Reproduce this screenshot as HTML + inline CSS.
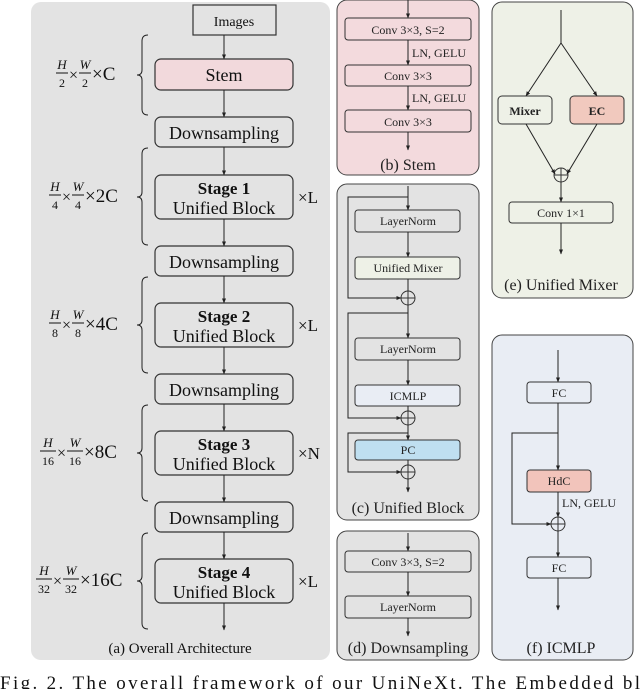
<!DOCTYPE html>
<html><head><meta charset="utf-8"><style>
html,body{margin:0;padding:0;background:#fff;}
svg{display:block;font-family:"Liberation Serif",serif;}
</style></head><body>
<svg width="640" height="689" viewBox="0 0 640 689" xmlns="http://www.w3.org/2000/svg">
<defs>
<marker id="a" viewBox="0 0 10 10" refX="9" refY="5" markerWidth="5" markerHeight="5" orient="auto"><path d="M0,1 L10,5 L0,9 z" fill="#222"/></marker>
</defs>
<g stroke="#333" stroke-width="1">
<rect x="31" y="2" width="299" height="658" rx="10" fill="#e3e3e3" stroke="none"/>
<rect x="337" y="0" width="142" height="175" rx="10" fill="#f3dadd" stroke="#444"/>
<rect x="337" y="184" width="142" height="336" rx="10" fill="#e3e3e3" stroke="#444"/>
<rect x="337" y="531" width="142" height="129" rx="10" fill="#e3e3e3" stroke="#444"/>
<rect x="492" y="2" width="141" height="296" rx="10" fill="#eef1e7" stroke="#444"/>
<rect x="492" y="335" width="141" height="325" rx="10" fill="#e9edf4" stroke="#444"/>
</g>
<g stroke="#333" stroke-width="1.2" fill="none">
<rect x="193" y="5" width="83" height="30" fill="#e3e3e3"/>
<rect x="155" y="59" width="138" height="31" rx="6" fill="#f2d9dc"/>
<rect x="155" y="117" width="138" height="30" rx="6" fill="#e3e3e3"/>
<rect x="155" y="175" width="138" height="44" rx="6" fill="#e3e3e3"/>
<rect x="155" y="246" width="138" height="30" rx="6" fill="#e3e3e3"/>
<rect x="155" y="303" width="138" height="44" rx="6" fill="#e3e3e3"/>
<rect x="155" y="374" width="138" height="30" rx="6" fill="#e3e3e3"/>
<rect x="155" y="431" width="138" height="44" rx="6" fill="#e3e3e3"/>
<rect x="155" y="502" width="138" height="30" rx="6" fill="#e3e3e3"/>
<rect x="155" y="559" width="138" height="44" rx="6" fill="#e3e3e3"/>
</g>
<g stroke="#222" stroke-width="1" marker-end="url(#a)">
<line x1="224" y1="35" x2="224" y2="59"/>
<line x1="224" y1="90" x2="224" y2="117"/>
<line x1="224" y1="147" x2="224" y2="175"/>
<line x1="224" y1="219" x2="224" y2="246"/>
<line x1="224" y1="276" x2="224" y2="303"/>
<line x1="224" y1="347" x2="224" y2="374"/>
<line x1="224" y1="404" x2="224" y2="431"/>
<line x1="224" y1="475" x2="224" y2="502"/>
<line x1="224" y1="532" x2="224" y2="559"/>
<line x1="224" y1="603" x2="224" y2="630"/>
</g>
<g stroke="#222" stroke-width="1" fill="none">
<path d="M148,35 Q142,35 142,41 L142,70 Q142,75 137,75 Q142,75 142,80 L142,109 Q142,115 148,115"/>
<path d="M148,148 Q142,148 142,154 L142,192 Q142,197 137,197 Q142,197 142,202 L142,239 Q142,245 148,245"/>
<path d="M148,277 Q142,277 142,283 L142,320 Q142,325 137,325 Q142,325 142,330 L142,367 Q142,373 148,373"/>
<path d="M148,405 Q142,405 142,411 L142,448 Q142,453 137,453 Q142,453 142,458 L142,495 Q142,501 148,501"/>
<path d="M148,533 Q142,533 142,539 L142,576 Q142,581 137,581 Q142,581 142,586 L142,623 Q142,629 148,629"/>
</g>
<g fill="#111" text-anchor="middle">
<text x="234" y="26" font-size="14">Images</text>
<text x="224" y="81" font-size="18">Stem</text>
<text x="224" y="139" font-size="18">Downsampling</text>
<text x="224" y="194" font-size="17" font-weight="bold">Stage 1</text>
<text x="224" y="214" font-size="18">Unified Block</text>
<text x="224" y="268" font-size="18">Downsampling</text>
<text x="224" y="322" font-size="17" font-weight="bold">Stage 2</text>
<text x="224" y="342" font-size="18">Unified Block</text>
<text x="224" y="396" font-size="18">Downsampling</text>
<text x="224" y="450" font-size="17" font-weight="bold">Stage 3</text>
<text x="224" y="470" font-size="18">Unified Block</text>
<text x="224" y="524" font-size="18">Downsampling</text>
<text x="224" y="578" font-size="17" font-weight="bold">Stage 4</text>
<text x="224" y="598" font-size="18">Unified Block</text>
<text x="180" y="653" font-size="15">(a) Overall Architecture</text>
</g>
<g fill="#111" font-size="17">
<text x="298" y="203">×L</text>
<text x="298" y="331">×L</text>
<text x="298" y="459">×N</text>
<text x="298" y="587">×L</text>
</g>
<g fill="#111" font-size="19" stroke-width="1">
<g transform="translate(56,75)">
<text x="6" y="-6" font-size="13" font-style="italic" text-anchor="middle">H</text><line x1="0" y1="-2" x2="12" y2="-2" stroke="#111"/><text x="6" y="12" font-size="12" text-anchor="middle">2</text>
<text x="13" y="5" font-size="16">×</text>
<text x="29" y="-6" font-size="13" font-style="italic" text-anchor="middle">W</text><line x1="23" y1="-2" x2="35" y2="-2" stroke="#111"/><text x="29" y="12" font-size="12" text-anchor="middle">2</text>
<text x="36" y="5">×C</text></g>
<g transform="translate(49,197)">
<text x="6" y="-6" font-size="13" font-style="italic" text-anchor="middle">H</text><line x1="0" y1="-2" x2="12" y2="-2" stroke="#111"/><text x="6" y="12" font-size="12" text-anchor="middle">4</text>
<text x="13" y="5" font-size="16">×</text>
<text x="29" y="-6" font-size="13" font-style="italic" text-anchor="middle">W</text><line x1="23" y1="-2" x2="35" y2="-2" stroke="#111"/><text x="29" y="12" font-size="12" text-anchor="middle">4</text>
<text x="36" y="5">×2C</text></g>
<g transform="translate(49,325)">
<text x="6" y="-6" font-size="13" font-style="italic" text-anchor="middle">H</text><line x1="0" y1="-2" x2="12" y2="-2" stroke="#111"/><text x="6" y="12" font-size="12" text-anchor="middle">8</text>
<text x="13" y="5" font-size="16">×</text>
<text x="29" y="-6" font-size="13" font-style="italic" text-anchor="middle">W</text><line x1="23" y1="-2" x2="35" y2="-2" stroke="#111"/><text x="29" y="12" font-size="12" text-anchor="middle">8</text>
<text x="36" y="5">×4C</text></g>
<g transform="translate(40,453)">
<text x="8" y="-6" font-size="13" font-style="italic" text-anchor="middle">H</text><line x1="0" y1="-2" x2="16" y2="-2" stroke="#111"/><text x="8" y="12" font-size="12" text-anchor="middle">16</text>
<text x="17" y="5" font-size="16">×</text>
<text x="35" y="-6" font-size="13" font-style="italic" text-anchor="middle">W</text><line x1="27" y1="-2" x2="43" y2="-2" stroke="#111"/><text x="35" y="12" font-size="12" text-anchor="middle">16</text>
<text x="44" y="5">×8C</text></g>
<g transform="translate(36,581)">
<text x="8" y="-6" font-size="13" font-style="italic" text-anchor="middle">H</text><line x1="0" y1="-2" x2="16" y2="-2" stroke="#111"/><text x="8" y="12" font-size="12" text-anchor="middle">32</text>
<text x="17" y="5" font-size="16">×</text>
<text x="35" y="-6" font-size="13" font-style="italic" text-anchor="middle">W</text><line x1="27" y1="-2" x2="43" y2="-2" stroke="#111"/><text x="35" y="12" font-size="12" text-anchor="middle">32</text>
<text x="44" y="5">×16C</text></g>
</g>
<!-- (b) stem -->
<g stroke="#333" stroke-width="1" fill="#f3dadd">
<rect x="345" y="18" width="126" height="22" rx="3"/>
<rect x="345" y="65" width="126" height="21" rx="3"/>
<rect x="345" y="110" width="126" height="22" rx="3"/>
</g>
<g stroke="#222" stroke-width="1" marker-end="url(#a)">
<line x1="408" y1="0" x2="408" y2="18"/>
<line x1="408" y1="40" x2="408" y2="65"/>
<line x1="408" y1="86" x2="408" y2="110"/>
<line x1="408" y1="132" x2="408" y2="150"/>
</g>
<g fill="#222" font-size="12" text-anchor="middle">
<text x="408" y="34">Conv 3×3,   S=2</text>
<text x="408" y="80">Conv 3×3</text>
<text x="408" y="126">Conv 3×3</text>
<text x="412" y="57" text-anchor="start">LN, GELU</text>
<text x="412" y="102" text-anchor="start">LN, GELU</text>
<text x="408" y="170" font-size="16">(b) Stem</text>
</g>
<!-- (c) unified block -->
<g stroke="#333" stroke-width="1">
<rect x="355" y="210" width="105" height="22" rx="3" fill="#e3e3e3"/>
<rect x="355" y="257" width="105" height="22" rx="3" fill="#eef1e7"/>
<rect x="355" y="338" width="105" height="22" rx="3" fill="#e3e3e3"/>
<rect x="355" y="385" width="105" height="21" rx="3" fill="#e9edf4"/>
<rect x="355" y="440" width="105" height="20" rx="3" fill="#bfdff0"/>
<circle cx="408" cy="298" r="7" fill="none"/><line x1="401" y1="298" x2="415" y2="298"/><line x1="408" y1="291" x2="408" y2="305"/>
<circle cx="408" cy="418" r="7" fill="none"/><line x1="401" y1="418" x2="415" y2="418"/><line x1="408" y1="411" x2="408" y2="425"/>
<circle cx="408" cy="472" r="7" fill="none"/><line x1="401" y1="472" x2="415" y2="472"/><line x1="408" y1="465" x2="408" y2="479"/>
</g>
<g stroke="#222" stroke-width="1" fill="none">
<line x1="408" y1="186" x2="408" y2="210" marker-end="url(#a)"/>
<line x1="408" y1="232" x2="408" y2="257" marker-end="url(#a)"/>
<line x1="408" y1="279" x2="408" y2="291"/>
<line x1="408" y1="305" x2="408" y2="338" marker-end="url(#a)"/>
<line x1="408" y1="360" x2="408" y2="385" marker-end="url(#a)"/>
<line x1="408" y1="406" x2="408" y2="411"/>
<line x1="408" y1="425" x2="408" y2="440" marker-end="url(#a)"/>
<line x1="408" y1="460" x2="408" y2="465"/>
<line x1="408" y1="479" x2="408" y2="492" marker-end="url(#a)"/>
<polyline points="408,197 348,197 348,298 401,298" marker-end="url(#a)"/>
<polyline points="408,313 348,313 348,418 401,418" marker-end="url(#a)"/>
<polyline points="408,433 348,433 348,472 401,472" marker-end="url(#a)"/>
</g>
<g fill="#222" font-size="12" text-anchor="middle">
<text x="408" y="225">LayerNorm</text>
<text x="408" y="272">Unified Mixer</text>
<text x="408" y="353">LayerNorm</text>
<text x="408" y="400">ICMLP</text>
<text x="408" y="454">PC</text>
<text x="408" y="513" font-size="16">(c) Unified Block</text>
</g>
<!-- (d) downsampling -->
<g stroke="#333" stroke-width="1" fill="#e3e3e3">
<rect x="345" y="551" width="126" height="21" rx="3"/>
<rect x="345" y="596" width="126" height="22" rx="3"/>
</g>
<g stroke="#222" stroke-width="1" marker-end="url(#a)">
<line x1="408" y1="533" x2="408" y2="551"/>
<line x1="408" y1="572" x2="408" y2="596"/>
<line x1="408" y1="618" x2="408" y2="636"/>
</g>
<g fill="#222" font-size="12" text-anchor="middle">
<text x="408" y="566">Conv 3×3,   S=2</text>
<text x="408" y="611">LayerNorm</text>
<text x="408" y="653" font-size="16">(d) Downsampling</text>
</g>
<!-- (e) unified mixer -->
<g stroke="#333" stroke-width="1">
<rect x="498" y="96" width="54" height="28" rx="4" fill="#eef1e7"/>
<rect x="570" y="96" width="54" height="28" rx="4" fill="#f1c9be"/>
<rect x="509" y="202" width="104" height="21" rx="3" fill="#eef1e7"/>
<circle cx="561" cy="175" r="7" fill="none"/><line x1="554" y1="175" x2="568" y2="175"/><line x1="561" y1="168" x2="561" y2="182"/>
</g>
<g stroke="#222" stroke-width="1" fill="none">
<line x1="561" y1="10" x2="561" y2="43"/>
<line x1="561" y1="43" x2="526" y2="96" marker-end="url(#a)"/>
<line x1="561" y1="43" x2="597" y2="96" marker-end="url(#a)"/>
<line x1="526" y1="124" x2="555" y2="174" marker-end="url(#a)"/>
<line x1="597" y1="124" x2="567" y2="174" marker-end="url(#a)"/>
<line x1="561" y1="182" x2="561" y2="202" marker-end="url(#a)"/>
<line x1="561" y1="223" x2="561" y2="254" marker-end="url(#a)"/>
</g>
<g fill="#222" font-size="12" text-anchor="middle">
<text x="525" y="115" font-weight="bold">Mixer</text>
<text x="597" y="115" font-weight="bold">EC</text>
<text x="561" y="217">Conv 1×1</text>
<text x="561" y="290" font-size="16">(e) Unified Mixer</text>
</g>
<!-- (f) ICMLP -->
<g stroke="#333" stroke-width="1">
<rect x="527" y="382" width="64" height="21" rx="3" fill="#e9edf4"/>
<rect x="527" y="470" width="64" height="22" rx="3" fill="#f2c4bb"/>
<rect x="527" y="557" width="64" height="21" rx="3" fill="#e9edf4"/>
<circle cx="558" cy="524" r="7" fill="none"/><line x1="551" y1="524" x2="565" y2="524"/><line x1="558" y1="517" x2="558" y2="531"/>
</g>
<g stroke="#222" stroke-width="1" fill="none">
<line x1="558" y1="350" x2="558" y2="382" marker-end="url(#a)"/>
<line x1="558" y1="403" x2="558" y2="470" marker-end="url(#a)"/>
<line x1="558" y1="492" x2="558" y2="517" marker-end="url(#a)"/>
<line x1="558" y1="531" x2="558" y2="557" marker-end="url(#a)"/>
<line x1="558" y1="578" x2="558" y2="610" marker-end="url(#a)"/>
<polyline points="558,433 512,433 512,524 551,524" marker-end="url(#a)"/>
</g>
<g fill="#222" font-size="12" text-anchor="middle">
<text x="559" y="397">FC</text>
<text x="559" y="485">HdC</text>
<text x="562" y="507" text-anchor="start">LN, GELU</text>
<text x="559" y="572">FC</text>
<text x="561" y="653" font-size="16">(f) ICMLP</text>
</g>
<text x="0" y="689" font-size="19" fill="#111" textLength="640" lengthAdjust="spacing">Fig. 2.  The overall framework of our UniNeXt. The Embedded bl</text>
</svg>
</body></html>
